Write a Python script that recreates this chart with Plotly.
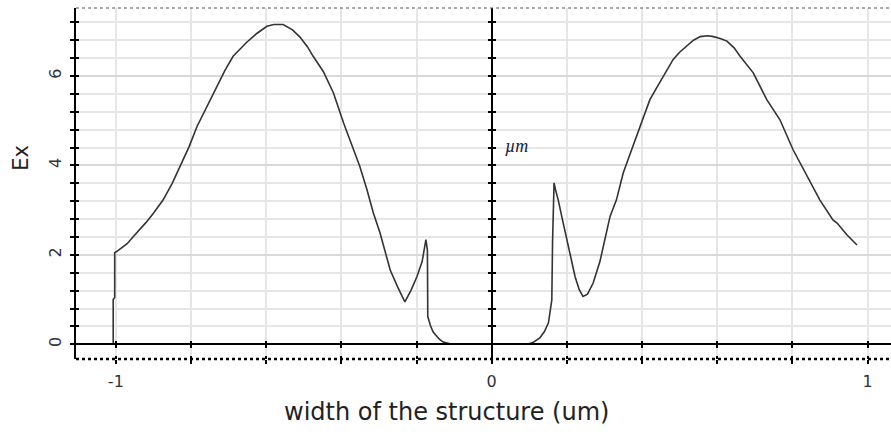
import plotly.graph_objects as go

# Ex field profile across the structure (width in um)
left_x = [-1.007, -1.007, -1.003, -1.003, -0.997, -0.970, -0.945, -0.920, -0.900, -0.874,
          -0.850, -0.829, -0.805, -0.784, -0.760, -0.731, -0.710, -0.688, -0.668, -0.651,
          -0.625, -0.598, -0.580, -0.555, -0.530, -0.510, -0.490, -0.475, -0.448, -0.421,
          -0.394, -0.377, -0.351, -0.332, -0.315, -0.297, -0.283, -0.270, -0.250, -0.231,
          -0.215, -0.199, -0.185, -0.175, -0.171, -0.170, -0.163, -0.156, -0.140, -0.129,
          -0.106]
left_ex = [0.00, 1.00, 1.05, 2.05, 2.08, 2.25, 2.49, 2.72, 2.93, 3.23,
           3.60, 3.97, 4.42, 4.87, 5.27, 5.77, 6.12, 6.44, 6.62, 6.76,
           6.95, 7.11, 7.15, 7.15, 7.03, 6.87, 6.65, 6.44, 6.10, 5.62,
           4.95, 4.57, 3.98, 3.46, 2.94, 2.49, 2.05, 1.66, 1.28, 0.95,
           1.20, 1.51, 1.85, 2.34, 2.10, 0.62, 0.42, 0.28, 0.12, 0.05,
           0.00]

right_x = [0.094, 0.110, 0.128, 0.140, 0.151, 0.160, 0.162, 0.164, 0.166, 0.170,
           0.177, 0.188, 0.200, 0.212, 0.222, 0.233, 0.243, 0.255, 0.270, 0.288,
           0.306, 0.315, 0.332, 0.350, 0.368, 0.386, 0.405, 0.421, 0.440, 0.457,
           0.483, 0.500, 0.519, 0.537, 0.555, 0.575, 0.590, 0.608, 0.626, 0.645,
           0.661, 0.696, 0.732, 0.767, 0.802, 0.839, 0.873, 0.908, 0.919, 0.945,
           0.972]
right_ex = [0.00, 0.04, 0.14, 0.28, 0.48, 0.99, 2.30, 3.50, 3.61, 3.45,
            3.23, 2.80, 2.34, 1.90, 1.51, 1.22, 1.07, 1.12, 1.37, 1.85,
            2.49, 2.86, 3.23, 3.83, 4.25, 4.65, 5.10, 5.47, 5.75, 6.00,
            6.37, 6.53, 6.66, 6.80, 6.88, 6.90, 6.88, 6.84, 6.78, 6.63,
            6.44, 6.07, 5.47, 5.02, 4.35, 3.75, 3.23, 2.78, 2.71, 2.45,
            2.22]

x_ticks = [round(-1.0 + 0.2 * i, 1) for i in range(11)]
x_labels = {-1.0: "-1", 0.0: "0", 1.0: "1"}
y_major = [0, 2, 4, 6]

X_RANGE = [-1.106, 1.0625]
Y_RANGE = [-0.329, 7.52]

FONT = "DejaVu Sans"
INK = "#333333"
GRID = "#e6e6e6"

fig = go.Figure()

fig.add_trace(go.Scatter(x=left_x, y=left_ex, mode="lines",
                         line=dict(color=INK, width=1.6), showlegend=False,
                         hoverinfo="skip"))
fig.add_trace(go.Scatter(x=right_x, y=right_ex, mode="lines",
                         line=dict(color=INK, width=1.6), showlegend=False,
                         hoverinfo="skip"))

# empty traces so the helper axes (crossing ticks, zero lines) get drawn
for xa, ya in [("x2", "y2"), ("x3", "y3"), ("x4", "y4")]:
    fig.add_trace(go.Scatter(x=[], y=[], xaxis=xa, yaxis=ya, showlegend=False))

tick_text = [x_labels.get(v, "") for v in x_ticks]
x0_pos = (0 - X_RANGE[0]) / (X_RANGE[1] - X_RANGE[0])
y0_pos = (0 - Y_RANGE[0]) / (Y_RANGE[1] - Y_RANGE[0])

common_x = dict(range=X_RANGE, tickvals=x_ticks, fixedrange=True)
common_y = dict(range=Y_RANGE, tickvals=y_major, fixedrange=True)

fig.update_layout(
    width=891, height=434,
    margin=dict(l=76, r=0, t=8, b=75),
    plot_bgcolor="white", paper_bgcolor="white",
    font=dict(family=FONT, color=INK),
    xaxis=dict(**common_x, ticktext=tick_text, showgrid=True, gridcolor=GRID,
               gridwidth=2, zeroline=False, showline=False,
               ticks="outside", ticklen=4, tickwidth=2, tickcolor="black",
               tickfont=dict(size=16, color=INK), ticklabelstandoff=4),
    yaxis=dict(**common_y, ticktext=[str(v) for v in y_major], showgrid=True,
               gridcolor="#d9d9d9", gridwidth=2, zeroline=False,
               showline=True, linecolor="black", linewidth=2,
               ticks="outside", ticklen=4, tickwidth=2, tickcolor="black",
               tickangle=-90, tickfont=dict(size=16, color=INK),
               ticklabelstandoff=3,
               minor=dict(dtick=0.4, tick0=0, showgrid=True, gridcolor=GRID,
                          gridwidth=2, ticks="outside", ticklen=4,
                          tickwidth=2, tickcolor="black")),
    # inner halves of the bottom / left ticks
    xaxis2=dict(**common_x, overlaying="x", anchor="y2", side="bottom",
                showticklabels=False, showgrid=False, zeroline=False,
                ticks="inside", ticklen=3, tickwidth=2, tickcolor="black"),
    yaxis2=dict(**common_y, overlaying="y", anchor="x2", side="left",
                showticklabels=False, showgrid=False, zeroline=False,
                ticks="inside", ticklen=3, tickwidth=2, tickcolor="black",
                minor=dict(dtick=0.4, tick0=0, ticks="inside", ticklen=3,
                           tickwidth=2, tickcolor="black")),
    # zero lines with crossing ticks
    xaxis3=dict(**common_x, overlaying="x", anchor="free", position=y0_pos,
                side="bottom", showticklabels=False, showgrid=False,
                zeroline=False, showline=True, linecolor="black", linewidth=1.5,
                ticks="outside", ticklen=3, tickwidth=2, tickcolor="black"),
    yaxis3=dict(**common_y, overlaying="y", anchor="free", position=x0_pos,
                side="left", showticklabels=False, showgrid=False,
                zeroline=False, showline=True, linecolor="black", linewidth=2,
                ticks="outside", ticklen=3, tickwidth=2, tickcolor="black",
                minor=dict(dtick=0.4, tick0=0, ticks="outside", ticklen=3,
                           tickwidth=2, tickcolor="black")),
    xaxis4=dict(**common_x, overlaying="x", anchor="free", position=y0_pos,
                side="top", showticklabels=False, showgrid=False,
                zeroline=False, showline=False,
                ticks="outside", ticklen=3, tickwidth=2, tickcolor="black"),
    yaxis4=dict(**common_y, overlaying="y", anchor="free", position=x0_pos,
                side="right", showticklabels=False, showgrid=False,
                zeroline=False, showline=False,
                ticks="outside", ticklen=3, tickwidth=2, tickcolor="black",
                minor=dict(dtick=0.4, tick0=0, ticks="outside", ticklen=3,
                           tickwidth=2, tickcolor="black")),
    shapes=[
        # dotted frame lines at bottom and top of the plot area
        dict(type="line", xref="paper", yref="paper", x0=0, x1=1, y0=0, y1=0,
             line=dict(color="black", width=2.5, dash="dot"), layer="above"),
        dict(type="line", xref="paper", yref="paper", x0=0, x1=1, y0=1, y1=1,
             line=dict(color="#555555", width=1.2, dash="dot"), layer="above"),
    ],
    annotations=[
        dict(text="width of the structure (um)", xref="paper", yref="paper",
             x=0.4545, y=-0.151, xanchor="center", yanchor="middle",
             showarrow=False, font=dict(size=24, color="#222222", family=FONT)),
        dict(text="Ex", xref="paper", yref="paper", x=-0.0675, y=0.573,
             xanchor="center", yanchor="middle", textangle=-90,
             showarrow=False, font=dict(size=21, color="#222222", family=FONT)),
        dict(text="<i>µm</i>", xref="x", yref="y", x=0.065, y=4.44,
             xanchor="center", yanchor="middle", showarrow=False,
             font=dict(size=18, color="#1a1a3a", family="Liberation Serif")),
    ],
)

fig.write_html("out.html")
